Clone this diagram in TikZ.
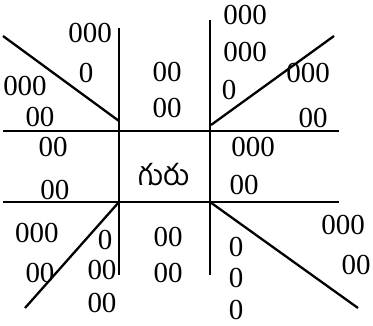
\documentclass[tikz,border=0pt]{standalone}
\usepackage{fontspec}
\setmainfont{Liberation Serif}
\newfontfamily\telugufont[Script=Telugu]{Hind Guntur}
\begin{document}
\begin{tikzpicture}[x=1pt,y=-1pt,
  lbl/.style={inner sep=0pt,font=\fontsize{29}{29}\selectfont},
  bar/.style={line width=2.3pt}]
\useasboundingbox (0,0) rectangle (373,325);
% main lines
\coordinate (cl) at (119,131);
\coordinate (cr) at (210,131);
\coordinate (bl) at (119,202);
\coordinate (br) at (210,202);
\draw[bar] (119,28) -- (119,275);
\draw[bar] (210,20) -- (210,275);
\draw[bar] (3,131) -- (339,131);
\draw[bar] (3,202) -- (339,202);
\draw[bar] (3,36) -- (119,121);
\draw[bar] (211,125) -- (334,36);
\draw[bar] (bl) -- (25,308);
\draw[bar] (br) -- (358,308);
% top-left
\node[lbl] (a1) at (90,33) {000};
\node[lbl] (a2) at (86,73) {0};
\node[lbl] (a3) at (25,86) {000};
\node[lbl] (a4) at (40,117) {00};
% top middle
\node[lbl] (b1) at (167,72) {00};
\node[lbl] (b2) at (167,108) {00};
% top-right
\node[lbl] (c1) at (245,15) {000};
\node[lbl] (c2) at (245,52) {000};
\node[lbl] (c3) at (229,90) {0};
\node[lbl] (c4) at (308,73) {000};
\node[lbl] (c5) at (313,118) {00};
% middle row
\node[lbl] (d1) at (53,147) {00};
\node[lbl] (d2) at (55,190) {00};
\node[lbl,font=\telugufont\fontsize{29}{29}\selectfont] (guru) at (164,175) {గురు};
\node[lbl] (e1) at (253,147) {000};
\node[lbl] (e2) at (244,185) {00};
% bottom-left
\node[lbl] (f1) at (37,233) {000};
\node[lbl] (f2) at (40,273) {00};
\node[lbl] (f3) at (105,240) {0};
\node[lbl] (f4) at (102,270) {00};
\node[lbl] (f5) at (102,303) {00};
% bottom middle
\node[lbl] (g1) at (168,237) {00};
\node[lbl] (g2) at (168,273) {00};
% bottom-right
\node[lbl] (h1) at (343,225) {000};
\node[lbl] (h2) at (356,265) {00};
\node[lbl] (h3) at (236,247) {0};
\node[lbl] (h4) at (236,278) {0};
\node[lbl] (h5) at (236,310) {0};
\end{tikzpicture}
\end{document}
